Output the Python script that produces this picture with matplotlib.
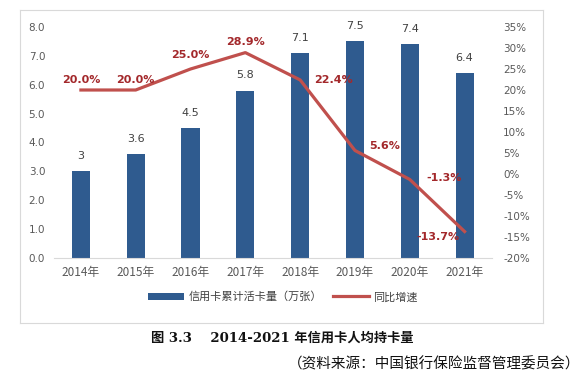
import matplotlib
matplotlib.use("Agg")
import matplotlib.pyplot as plt
import numpy as np

plt.rcParams['font.family'] = ['Noto Sans CJK SC', 'DejaVu Sans']

years = ['2014年', '2015年', '2016年', '2017年', '2018年', '2019年', '2020年', '2021年']
cards = [3, 3.6, 4.5, 5.8, 7.1, 7.5, 7.4, 6.4]
card_labels = ['3', '3.6', '4.5', '5.8', '7.1', '7.5', '7.4', '6.4']
growth = [20.0, 20.0, 25.0, 28.9, 22.4, 5.6, -1.3, -13.7]
left_ticks = [0, 1, 2, 3, 4, 5, 6, 7, 8]
right_ticks = [-20, -15, -10, -5, 0, 5, 10, 15, 20, 25, 30, 35]

bar_color = '#2F5B8F'
line_color = '#C0504D'
lab_color = '#A3282B'
tick_color = '#595959'

fig = plt.figure(figsize=(5.83, 3.82), dpi=100)
# outer chart frame
frame = fig.add_axes([20/583, 1-323/382, (543-20)/583, (323-10)/382])
frame.set_xticks([]); frame.set_yticks([])
for s in frame.spines.values():
    s.set_color('#D9D9D9'); s.set_linewidth(0.8)
frame.patch.set_alpha(0)

ax = fig.add_axes([53.5/583, 1-258/382, (492-53.5)/583, (258-27)/382])
x = np.arange(len(years))
ax.bar(x, cards, width=0.33, color=bar_color, zorder=2, label='信用卡累计活卡量（万张）')
ax.set_ylim(0, 8)
ax.set_xlim(-0.5, len(years)-0.5)
ax.set_yticks(left_ticks)
ax.set_yticklabels([f'{v:.1f}' for v in left_ticks], color=tick_color, fontsize=7.5, family='DejaVu Sans')
ax.set_xticks(x)
ax.set_xticklabels(years, color=tick_color, fontsize=8.5)
ax.tick_params(length=0, pad=6)
ax.tick_params(axis='x', pad=6)
for s in ['top', 'right', 'left']:
    ax.spines[s].set_visible(False)
ax.spines['bottom'].set_color('#D9D9D9')
for xi, v, t in zip(x, cards, card_labels):
    ax.text(xi, v + 0.35, t, ha='center', va='bottom', fontsize=8, color='#404040', family='DejaVu Sans')

ax2 = ax.twinx()
ax2.plot(x, growth, color=line_color, lw=2.3, zorder=3, label='同比增速')
ax2.set_ylim(-20, 35)
ax2.set_yticks(right_ticks)
ax2.set_yticklabels([f'{v}%' for v in right_ticks], color=tick_color, fontsize=7.5, family='DejaVu Sans')
ax2.tick_params(length=0, pad=8)
for s in ax2.spines.values():
    s.set_visible(False)

offsets = [(0, 7, 'center'), (0, 7, 'center'), (0, 10, 'center'), (0, 8, 'center'),
           (10, 0, 'left'), (10, 3, 'left'), (12, 1, 'left'), (-4, -4, 'right')]
for xi, g, (dx, dy, ha) in zip(x, growth, offsets):
    ax2.annotate(f'{g:.1f}%', (xi, g), xytext=(dx, dy), textcoords='offset points',
                 ha=ha, va='center', fontsize=8, color=lab_color, fontweight='bold', family='DejaVu Sans')

h1, l1 = ax.get_legend_handles_labels()
h2, l2 = ax2.get_legend_handles_labels()
fig.legend(h1 + h2, l1 + l2, loc='center', bbox_to_anchor=(283/583, 1-297/382), ncol=2,
           frameon=False, fontsize=8, handlelength=3.2, handleheight=0.7, columnspacing=1.0,
           handletextpad=0.4, labelcolor='#404040')

fig.text(282/583, 1-338/382, '图 3.3    2014-2021 年信用卡人均持卡量', ha='center', va='center',
         fontsize=9.5, fontweight='bold', color='#111111', family=['DejaVu Serif', 'Noto Sans CJK SC'])
fig.text(580/583, 1-364/382, '（资料来源：中国银行保险监督管理委员会）', ha='right', va='center',
         fontsize=10.5, color='#111111')

fig.savefig('out.png', dpi=100)
